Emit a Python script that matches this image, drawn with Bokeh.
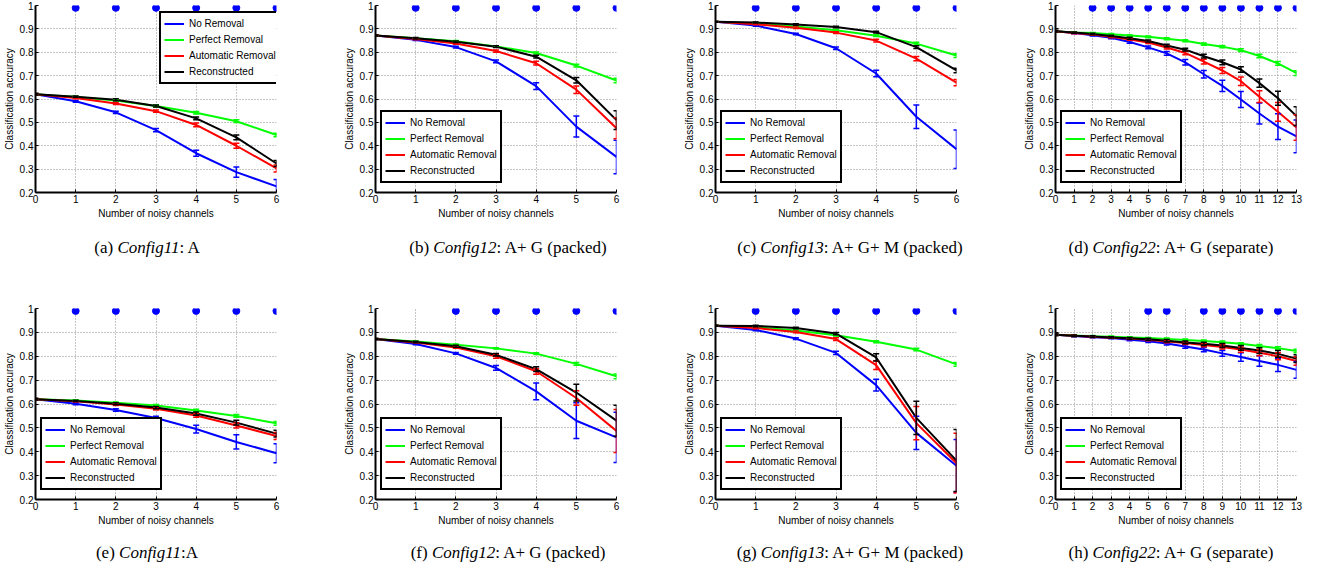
from bokeh.plotting import figure
from bokeh.models import (ColumnDataSource, Whisker, TeeHead, Legend, LegendItem,
                          FixedTicker, Range1d, Div)
from bokeh.layouts import row, column
from bokeh.embed import file_html
from bokeh.resources import INLINE

# ---------------- data ----------------
series_labels = ["No Removal", "Perfect Removal", "Automatic Removal", "Reconstructed"]
series_colors = ["#0000ff", "#00ff00", "#ff0000", "#000000"]
y_ticks = [0.2, 0.3, 0.4, 0.5, 0.6, 0.7, 0.8, 0.9, 1.0]
y_tick_labels = ["0.2", "0.3", "0.4", "0.5", "0.6", "0.7", "0.8", "0.9", "1"]
sig_y = 0.99

# (a) Config11
a_none = [0.620, 0.590, 0.543, 0.467, 0.368, 0.287, 0.226]
a_none_err = [0.003, 0.004, 0.005, 0.007, 0.013, 0.022, 0.030]
a_perfect = [0.620, 0.609, 0.594, 0.570, 0.541, 0.505, 0.446]
a_perfect_err = [0.003, 0.003, 0.003, 0.004, 0.005, 0.006, 0.008]
a_auto = [0.620, 0.604, 0.581, 0.548, 0.489, 0.400, 0.303]
a_auto_err = [0.003, 0.003, 0.004, 0.005, 0.008, 0.011, 0.015]
a_recon = [0.620, 0.610, 0.597, 0.570, 0.517, 0.436, 0.324]
a_recon_err = [0.003, 0.003, 0.004, 0.004, 0.006, 0.010, 0.013]
a_sig = [1, 2, 3, 4, 5, 6]

# (b) Config12
b_none = [0.872, 0.853, 0.822, 0.761, 0.655, 0.482, 0.352]
b_none_err = [0.002, 0.003, 0.004, 0.006, 0.014, 0.045, 0.072]
b_perfect = [0.872, 0.860, 0.847, 0.825, 0.797, 0.743, 0.679]
b_perfect_err = [0.002, 0.002, 0.003, 0.003, 0.004, 0.006, 0.010]
b_auto = [0.872, 0.857, 0.837, 0.805, 0.753, 0.640, 0.475]
b_auto_err = [0.002, 0.003, 0.003, 0.005, 0.008, 0.016, 0.045]
b_recon = [0.872, 0.860, 0.845, 0.824, 0.781, 0.680, 0.510]
b_recon_err = [0.002, 0.003, 0.003, 0.004, 0.006, 0.012, 0.040]
b_sig = [1, 2, 3, 4, 5, 6]

# (c) Config13
c_none = [0.930, 0.914, 0.878, 0.817, 0.709, 0.524, 0.385]
c_none_err = [0.002, 0.003, 0.003, 0.005, 0.014, 0.050, 0.082]
c_perfect = [0.930, 0.923, 0.910, 0.894, 0.871, 0.837, 0.786]
c_perfect_err = [0.002, 0.002, 0.003, 0.003, 0.004, 0.006, 0.008]
c_auto = [0.930, 0.920, 0.905, 0.884, 0.850, 0.773, 0.670]
c_auto_err = [0.002, 0.002, 0.003, 0.004, 0.006, 0.009, 0.013]
c_recon = [0.930, 0.927, 0.919, 0.908, 0.886, 0.822, 0.722]
c_recon_err = [0.002, 0.002, 0.003, 0.003, 0.004, 0.006, 0.010]
c_sig = [1, 2, 3, 4, 5, 6]

# (d) Config22
d_none = [0.890, 0.882, 0.873, 0.862, 0.844, 0.821, 0.795, 0.757, 0.706, 0.656, 0.598, 0.538, 0.482, 0.440]
d_none_err = [0.003, 0.003, 0.004, 0.004, 0.005, 0.006, 0.008, 0.012, 0.016, 0.024, 0.034, 0.045, 0.055, 0.070]
d_perfect = [0.890, 0.885, 0.882, 0.877, 0.872, 0.866, 0.858, 0.849, 0.835, 0.824, 0.809, 0.784, 0.752, 0.711]
d_perfect_err = [0.003, 0.003, 0.003, 0.003, 0.003, 0.004, 0.004, 0.004, 0.005, 0.005, 0.006, 0.007, 0.008, 0.010]
d_auto = [0.890, 0.882, 0.876, 0.866, 0.855, 0.842, 0.820, 0.797, 0.760, 0.722, 0.676, 0.610, 0.545, 0.478]
d_auto_err = [0.003, 0.003, 0.003, 0.004, 0.004, 0.005, 0.006, 0.008, 0.010, 0.013, 0.018, 0.025, 0.040, 0.055]
d_recon = [0.890, 0.884, 0.878, 0.870, 0.860, 0.848, 0.829, 0.811, 0.783, 0.757, 0.726, 0.668, 0.603, 0.527]
d_recon_err = [0.003, 0.003, 0.003, 0.003, 0.004, 0.004, 0.005, 0.006, 0.008, 0.010, 0.012, 0.018, 0.030, 0.040]
d_sig = [2, 3, 4, 5, 6, 7, 8, 9, 10, 11, 12, 13]

# (e) Config11
e_none = [0.620, 0.601, 0.575, 0.541, 0.495, 0.441, 0.394]
e_none_err = [0.003, 0.004, 0.005, 0.008, 0.016, 0.030, 0.040]
e_perfect = [0.620, 0.615, 0.605, 0.594, 0.573, 0.550, 0.519]
e_perfect_err = [0.003, 0.003, 0.003, 0.004, 0.005, 0.006, 0.008]
e_auto = [0.620, 0.611, 0.598, 0.580, 0.552, 0.510, 0.466]
e_auto_err = [0.003, 0.003, 0.004, 0.005, 0.008, 0.010, 0.015]
e_recon = [0.620, 0.613, 0.601, 0.585, 0.560, 0.522, 0.476]
e_recon_err = [0.003, 0.003, 0.004, 0.005, 0.007, 0.010, 0.014]
e_sig = [1, 2, 3, 4, 5, 6]

# (f) Config12
f_none = [0.872, 0.851, 0.812, 0.751, 0.653, 0.530, 0.460]
f_none_err = [0.002, 0.003, 0.004, 0.010, 0.035, 0.075, 0.105]
f_perfect = [0.872, 0.862, 0.848, 0.833, 0.811, 0.768, 0.716]
f_perfect_err = [0.002, 0.002, 0.003, 0.003, 0.004, 0.006, 0.010]
f_auto = [0.872, 0.858, 0.837, 0.800, 0.737, 0.625, 0.487]
f_auto_err = [0.002, 0.003, 0.004, 0.008, 0.012, 0.030, 0.090]
f_recon = [0.872, 0.860, 0.842, 0.806, 0.746, 0.648, 0.530]
f_recon_err = [0.002, 0.003, 0.004, 0.005, 0.010, 0.035, 0.065]
f_sig = [2, 3, 4, 5, 6]

# (g) Config13
g_none = [0.928, 0.910, 0.874, 0.814, 0.679, 0.479, 0.341]
g_none_err = [0.002, 0.003, 0.004, 0.007, 0.025, 0.070, 0.110]
g_perfect = [0.928, 0.922, 0.908, 0.888, 0.861, 0.828, 0.766]
g_perfect_err = [0.002, 0.002, 0.003, 0.003, 0.004, 0.005, 0.008]
g_auto = [0.928, 0.918, 0.902, 0.872, 0.763, 0.520, 0.352]
g_auto_err = [0.002, 0.003, 0.004, 0.006, 0.018, 0.070, 0.125]
g_recon = [0.928, 0.927, 0.918, 0.895, 0.795, 0.542, 0.363]
g_recon_err = [0.002, 0.003, 0.003, 0.005, 0.015, 0.070, 0.130]
g_sig = [1, 2, 3, 4, 5, 6]

# (h) Config22
h_none = [0.890, 0.885, 0.880, 0.876, 0.869, 0.863, 0.853, 0.841, 0.828, 0.812, 0.797, 0.780, 0.764, 0.743]
h_none_err = [0.003, 0.003, 0.003, 0.003, 0.004, 0.005, 0.006, 0.007, 0.009, 0.012, 0.018, 0.022, 0.028, 0.035]
h_perfect = [0.890, 0.887, 0.884, 0.882, 0.879, 0.876, 0.872, 0.868, 0.864, 0.859, 0.852, 0.843, 0.834, 0.822]
h_perfect_err = [0.003, 0.003, 0.003, 0.003, 0.003, 0.003, 0.004, 0.004, 0.004, 0.005, 0.005, 0.006, 0.006, 0.007]
h_auto = [0.890, 0.886, 0.882, 0.878, 0.874, 0.869, 0.862, 0.855, 0.847, 0.839, 0.828, 0.815, 0.800, 0.780]
h_auto_err = [0.003, 0.003, 0.003, 0.003, 0.004, 0.004, 0.005, 0.006, 0.007, 0.009, 0.011, 0.013, 0.015, 0.018]
h_recon = [0.890, 0.886, 0.883, 0.879, 0.875, 0.871, 0.865, 0.858, 0.852, 0.845, 0.835, 0.824, 0.810, 0.790]
h_recon_err = [0.003, 0.003, 0.003, 0.003, 0.004, 0.004, 0.005, 0.006, 0.007, 0.008, 0.010, 0.012, 0.014, 0.016]
h_sig = [5, 6, 8, 9, 10, 11, 12, 13]

captions_row1 = [("(a) ", "Config11", ": A"), ("(b) ", "Config12", ": A+ G (packed)"),
                 ("(c) ", "Config13", ": A+ G+ M (packed)"), ("(d) ", "Config22", ": A+ G (separate)")]
captions_row2 = [("(e) ", "Config11", ":A"), ("(f) ", "Config12", ": A+ G (packed)"),
                 ("(g) ", "Config13", ": A+ G+ M (packed)"), ("(h) ", "Config22", ": A+ G (separate)")]

x_label = "Number of noisy channels"
y_label = "Classification accuracy"

# ---------------- layout constants ----------------
FRAME_W = 245
LEFT = 31
FONT = "Liberation Sans"


def make_panel(vals, errs, sig, legend_loc, width, height, top, frame_h):
    n = len(vals[0]) - 1
    xs = list(range(n + 1))
    right = width - LEFT - FRAME_W
    p = figure(width=width, height=height, x_range=Range1d(0, n), y_range=Range1d(0.2, 1.0),
               output_backend="svg", toolbar_location=None,
               min_border_left=LEFT, min_border_right=right, min_border_top=top,
               min_border_bottom=height - top - frame_h)
    p.outline_line_color = None
    p.background_fill_color = "white"
    p.border_fill_color = "white"

    p.xaxis.ticker = FixedTicker(ticks=xs)
    p.yaxis.ticker = FixedTicker(ticks=y_ticks)
    p.yaxis.major_label_overrides = {t: l for t, l in zip(y_ticks, y_tick_labels)}
    for ax in (p.xaxis[0], p.yaxis[0]):
        ax.axis_line_width = 2
        ax.axis_line_color = "black"
        ax.major_tick_in = 3
        ax.major_tick_out = 0
        ax.minor_tick_line_color = None
        ax.major_tick_line_color = "black"
        ax.major_label_text_font = FONT
        ax.major_label_text_font_size = "10px"
        ax.major_label_text_color = "black"
        ax.major_label_standoff = 2
        ax.axis_label_text_font = FONT
        ax.axis_label_text_font_size = "10px"
        ax.axis_label_text_font_style = "normal"
        ax.axis_label_text_color = "black"
        ax.axis_label_standoff = 2
    p.xaxis.axis_label = x_label
    p.yaxis.axis_label = y_label
    for g in (p.xgrid[0], p.ygrid[0]):
        g.grid_line_color = "#8c8c8c"
        g.grid_line_dash = "1 2"
        g.grid_line_width = 1

    items = []
    for v, e, c, lab in zip(vals, errs, series_colors, series_labels):
        src = ColumnDataSource(dict(x=xs, y=v,
                                    lower=[a - b for a, b in zip(v, e)],
                                    upper=[a + b for a, b in zip(v, e)]))
        r = p.line("x", "y", source=src, line_color=c, line_width=2)
        w = Whisker(source=src, base="x", lower="lower", upper="upper",
                    line_color=c, line_width=1.5, level="glyph",
                    upper_head=TeeHead(size=6, line_color=c, line_width=1.5),
                    lower_head=TeeHead(size=6, line_color=c, line_width=1.5))
        p.add_layout(w)
        items.append(LegendItem(label=lab, renderers=[r]))

    p.scatter(x=sig, y=[sig_y] * len(sig), size=7, color="#0000ff")

    if legend_loc == "top_right":
        loc = (FRAME_W - 121, frame_h - 8 - 71)
    else:
        loc = (5, 9)
    leg = Legend(items=items, location=loc, border_line_color="black", border_line_width=2,
                 border_line_alpha=1.0,
                 background_fill_color="white", background_fill_alpha=1.0,
                 label_text_font=FONT, label_text_font_size="10px", label_text_color="black",
                 glyph_width=20, glyph_height=15, label_height=15, label_standoff=5,
                 padding=3, spacing=1, margin=0)
    p.add_layout(leg)
    return p


def caption_div(caps, height, top):
    centers = [150, 511, 853, 1174]
    spans = ""
    for (pre, it, suf), cx in zip(caps, centers):
        spans += ('<span style="position:absolute;left:%dpx;top:%dpx;transform:translateX(-50%%);'
                  'white-space:nowrap;">%s<i>%s</i>%s</span>' % (cx - 8, top, pre, it, suf))
    html = ('<div style="position:relative;width:1307px;height:%dpx;'
            "font-family:'Liberation Serif',serif;font-size:17px;line-height:18px;color:black;\">%s</div>"
            % (height, spans))
    return Div(text=html, width=1307, height=height)


row1_data = [
    ([a_none, a_perfect, a_auto, a_recon], [a_none_err, a_perfect_err, a_auto_err, a_recon_err], a_sig, "top_right"),
    ([b_none, b_perfect, b_auto, b_recon], [b_none_err, b_perfect_err, b_auto_err, b_recon_err], b_sig, "bottom_left"),
    ([c_none, c_perfect, c_auto, c_recon], [c_none_err, c_perfect_err, c_auto_err, c_recon_err], c_sig, "bottom_left"),
    ([d_none, d_perfect, d_auto, d_recon], [d_none_err, d_perfect_err, d_auto_err, d_recon_err], d_sig, "bottom_left"),
]
row2_data = [
    ([e_none, e_perfect, e_auto, e_recon], [e_none_err, e_perfect_err, e_auto_err, e_recon_err], e_sig, "bottom_left"),
    ([f_none, f_perfect, f_auto, f_recon], [f_none_err, f_perfect_err, f_auto_err, f_recon_err], f_sig, "bottom_left"),
    ([g_none, g_perfect, g_auto, g_recon], [g_none_err, g_perfect_err, g_auto_err, g_recon_err], g_sig, "bottom_left"),
    ([h_none, h_perfect, h_auto, h_recon], [h_none_err, h_perfect_err, h_auto_err, h_recon_err], h_sig, "bottom_left"),
]
widths = [340, 340, 340, 287]

figs1 = [make_panel(v, e, s, l, w, 221, 5, 187) for (v, e, s, l), w in zip(row1_data, widths)]
figs2 = [make_panel(v, e, s, l, w, 226, 6, 193) for (v, e, s, l), w in zip(row2_data, widths)]

layout = column(row(*figs1), caption_div(captions_row1, 71, 13),
                row(*figs2), caption_div(captions_row2, 35, 11))

open("out.html", "w").write(file_html(layout, INLINE))
